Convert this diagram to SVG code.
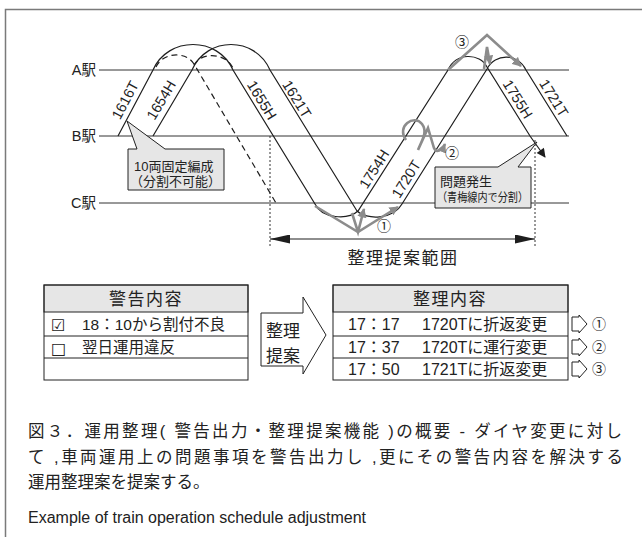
<svg xmlns="http://www.w3.org/2000/svg" width="642" height="537" viewBox="0 0 642 537">
<style>
.st{stroke:#333;stroke-width:1;fill:none}
.tr{fill:none;stroke:#1e1e1e;stroke-width:1.2}
.dash{stroke-dasharray:6 4}
.dot{stroke:#333;stroke-width:1;stroke-dasharray:2 2;fill:none}
.gr{fill:none;stroke:#8c8c8c;stroke-width:2.6;stroke-linejoin:miter}
.tl{font-family:"Liberation Sans","Noto Sans CJK JP",sans-serif;font-size:14.5px;fill:#222;text-anchor:middle}
.jp{font-family:"Liberation Sans","Noto Sans CJK JP",sans-serif;fill:#222}
.box{fill:#e6e6e6;stroke:#222;stroke-width:1}
.cell{fill:none;stroke:#222;stroke-width:1}
.num{font-family:"Noto Sans CJK JP",sans-serif;font-size:14px;fill:#222;text-anchor:middle}
</style>
<defs>
<marker id="ga" viewBox="0 0 10 10" refX="9" refY="5" markerWidth="3.6" markerHeight="3.6" orient="auto"><path d="M0,0 L10,5 L0,10 z" fill="#8c8c8c"/></marker>
<marker id="ba" viewBox="0 0 10 10" refX="9" refY="5" markerWidth="11" markerHeight="9" markerUnits="userSpaceOnUse" orient="auto"><path d="M0,0 L10,5 L0,10 z" fill="#1e1e1e"/></marker>
<marker id="ra" viewBox="0 0 20 9" refX="20" refY="4.5" markerWidth="20" markerHeight="9" markerUnits="userSpaceOnUse" orient="auto-start-reverse"><path d="M0,0 L20,4.5 L0,9 z" fill="#1e1e1e"/></marker>
</defs>
<rect width="642" height="537" fill="#fff"/>
<rect x="5.5" y="9.5" width="700" height="600" fill="none" stroke="#7a7a7a" stroke-width="1.5"/>

<g id="stations">
<line class="st" x1="99" y1="70" x2="569" y2="70"/>
<line class="st" x1="99" y1="136" x2="569" y2="136"/>
<line class="st" x1="99" y1="203" x2="569" y2="203"/>
<text class="jp" x="96" y="75" font-size="14.5" text-anchor="end">A駅</text>
<text class="jp" x="96" y="141" font-size="14.5" text-anchor="end">B駅</text>
<text class="jp" x="96" y="208" font-size="14.5" text-anchor="end">C駅</text>
</g>

<g id="connectors">
<path class="tr" d="M118,136 L153,70 C168,36 218,36 233,70 L315,204 C322,219 348,220 358,211 L448,70 C456,52 480,53 487,67 L530,136 L545,157" marker-end="url(#ba)"/>
<path class="tr" d="M153,136 L192,70 C207,36 255,36 270,70 L357,211 C366,220 393,220 402,204 L487,69 C495,53 518,53 526,70 L567,136"/>
<path class="tr dash" d="M156,67 C163,52 186,51 194,64 L276,203"/>
<path class="tr dash" d="M194,65 C201,52 225,52 233,68"/>
<line class="dot" x1="270" y1="136" x2="270" y2="248"/>
<line class="dot" x1="535" y1="140" x2="535" y2="248"/>
<line x1="270" y1="239" x2="535" y2="239" stroke="#1e1e1e" stroke-width="1.2" marker-start="url(#ra)" marker-end="url(#ra)"/>
<polyline class="gr" points="315,206 358,232 398,207" marker-end="url(#ga)"/>
<polyline class="gr" points="352,213 358,232 364,209" marker-end="url(#ga)"/>
<polyline class="gr" points="448,70 487,35 521,66" marker-end="url(#ga)"/>
<polyline class="gr" points="484,69 487,47 490,64" marker-end="url(#ga)"/>
<path class="gr" d="M406,140 C396,126 414,114 422,124 C428,132 422,140 418,150 L428,128 L434,148 C436,153 442,151 445,144" marker-end="url(#ga)"/>
</g>

<g id="train-labels">
<text class="tl" transform="translate(125,100) rotate(-62)" dy="0.36em">1616T</text>
<text class="tl" transform="translate(161,100) rotate(-59)" dy="0.36em">1654H</text>
<text class="tl" transform="translate(262,100) rotate(58.5)" dy="0.36em">1655H</text>
<text class="tl" transform="translate(297,99) rotate(58.3)" dy="0.36em">1621T</text>
<text class="tl" transform="translate(374,169) rotate(-57.5)" dy="0.36em">1754H</text>
<text class="tl" transform="translate(406,179) rotate(-58)" dy="0.36em">1720T</text>
<text class="tl" transform="translate(518,99) rotate(58)" dy="0.36em">1755H</text>
<text class="tl" transform="translate(554,98) rotate(58)" dy="0.36em">1721T</text>
<text class="num" x="384" y="231">①</text>
<text class="num" x="452" y="158">②</text>
<text class="num" x="462" y="47">③</text>
</g>

<g id="callout-fixed">
<path class="box" d="M128,149 L137,149 L127,121 L165,149 L224,149 L224,190 L128,190 Z"/>
<text class="jp" x="134" y="171" font-size="13">10両固定編成</text>
<text class="jp" x="130" y="186" font-size="13">（分割不可能）</text>
</g>

<g id="callout-problem">
<path class="box" d="M435,167 L498,167 L537,142 L518,167 L531,167 L531,208 L435,208 Z"/>
<text class="jp" x="440" y="186" font-size="13">問題発生</text>
<text class="jp" x="437" y="202" font-size="12" textLength="91" lengthAdjust="spacingAndGlyphs">（青梅線内で分割）</text>
</g>

<g id="range-label">
<text class="jp" x="403" y="264" font-size="17" letter-spacing="1.5" text-anchor="middle">整理提案範囲</text>
</g>

<g id="table-warning">
<rect class="box" x="44" y="285" width="204" height="27"/>
<rect class="cell" x="44" y="285" width="204" height="95"/>
<line class="cell" x1="44" y1="336" x2="248" y2="336"/>
<line class="cell" x1="44" y1="358" x2="248" y2="358"/>
<text class="jp" x="146" y="305" font-size="17" letter-spacing="1.5" text-anchor="middle">警告内容</text>
<text x="51" y="331" font-family="DejaVu Sans,sans-serif" font-size="16" fill="#222">☑</text>
<text class="jp" x="82" y="330" font-size="15.5">18：10から割付不良</text>
<text x="51" y="354" font-family="DejaVu Sans,sans-serif" font-size="16" fill="#222">□</text>
<text class="jp" x="82" y="353" font-size="15.5">翌日運用違反</text>
</g>

<g id="arrow-propose">
<polygon points="261,313 303,313 303,297 326,335 303,374 303,366 261,366" fill="#fff" stroke="#222" stroke-width="1"/>
<text class="jp" x="266" y="337" font-size="17">整理</text>
<text class="jp" x="266" y="362" font-size="17">提案</text>
</g>

<g id="table-adjust">
<rect class="box" x="333" y="285" width="235" height="27"/>
<rect class="cell" x="333" y="285" width="235" height="95"/>
<line class="cell" x1="333" y1="336" x2="568" y2="336"/>
<line class="cell" x1="333" y1="358" x2="568" y2="358"/>
<text class="jp" x="450" y="305" font-size="17" letter-spacing="1.5" text-anchor="middle">整理内容</text>
<text class="jp" x="348" y="330" font-size="16">17：17</text>
<text class="jp" x="422" y="330" font-size="16">1720Tに折返変更</text>
<text class="jp" x="348" y="353" font-size="16">17：37</text>
<text class="jp" x="422" y="353" font-size="16">1720Tに運行変更</text>
<text class="jp" x="348" y="375" font-size="16">17：50</text>
<text class="jp" x="422" y="375" font-size="16">1721Tに折返変更</text>
</g>

<g id="result-marks">
<polygon points="572,317 579,317 579,315 587,324 579,333 579,331 572,331" fill="#fff" stroke="#222" stroke-width="1"/>
<polygon points="572,340 579,340 579,338 587,347 579,356 579,354 572,354" fill="#fff" stroke="#222" stroke-width="1"/>
<polygon points="572,362 579,362 579,360 587,369 579,378 579,376 572,376" fill="#fff" stroke="#222" stroke-width="1"/>
<text class="num" x="599" y="329" font-size="15">①</text>
<text class="num" x="599" y="352" font-size="15">②</text>
<text class="num" x="599" y="374" font-size="15">③</text>
</g>

<g id="caption">
<text class="jp" x="28" y="437" font-size="16.5" textLength="594" lengthAdjust="spacing">図３．運用整理( 警告出力・整理提案機能 )の概要 - ダイヤ変更に対し</text>
<text class="jp" x="28" y="463" font-size="16.5" textLength="595" lengthAdjust="spacing">て ,車両運用上の問題事項を警告出力し ,更にその警告内容を解決する</text>
<text class="jp" x="28" y="488" font-size="16.5">運用整理案を提案する。</text>
<text x="28" y="523" font-family="Liberation Sans,sans-serif" font-size="16" fill="#222" textLength="338" lengthAdjust="spacing">Example of train operation schedule adjustment</text>
</g>
</svg>
